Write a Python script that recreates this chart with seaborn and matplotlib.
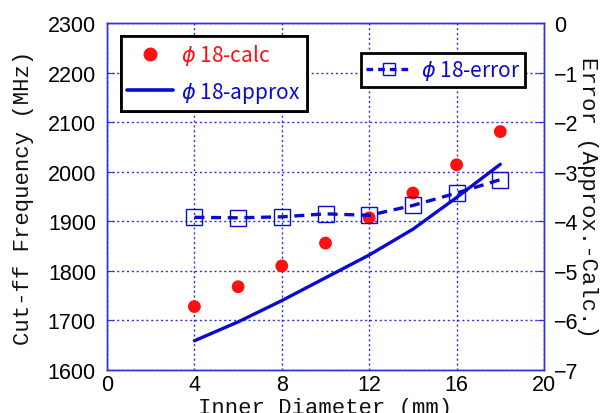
import numpy as np
import pandas as pd
import matplotlib
matplotlib.use("Agg")
import matplotlib.pyplot as plt
import seaborn as sns
from matplotlib.lines import Line2D

# ---- data ----
diameter = [4, 6, 8, 10, 12, 14, 16, 18]
freq_calc = [1728, 1768, 1810, 1856, 1907, 1957, 2014, 2081]
freq_approx = [1659, 1697, 1740, 1786, 1832, 1884, 1948, 2015]
error_pct = [-3.92, -3.93, -3.91, -3.85, -3.88, -3.68, -3.43, -3.16]

x_ticks = [0, 4, 8, 12, 16, 20]
y_ticks = [1600, 1700, 1800, 1900, 2000, 2100, 2200, 2300]
y2_ticks = [0, -1, -2, -3, -4, -5, -6, -7]

label_calc = "$\\phi$ 18-calc"
label_approx = "$\\phi$ 18-approx"
label_error = "$\\phi$ 18-error"

df = pd.DataFrame({"d": diameter, "calc": freq_calc, "approx": freq_approx, "err": error_pct})

sns.set_style("white")
plt.rcParams["font.family"] = ["Liberation Sans", "DejaVu Sans"]
plt.rcParams["mathtext.fontset"] = "dejavusans"

RED = "#ff1010"
BLUE = "#0a0ad0"
GRID = "#3030e0"

fig = plt.figure(figsize=(6.07, 4.14), dpi=100)
ax = fig.add_axes([107/607, 1-371/414, (544-107)/607, (371-24)/414])
ax2 = ax.twinx()

sns.lineplot(data=df, x="d", y="approx", ax=ax, color=BLUE, linewidth=2.4, zorder=4)
sns.scatterplot(data=df, x="d", y="calc", ax=ax, color=RED, s=85, edgecolor="none", zorder=5)
sns.lineplot(data=df, x="d", y="err", ax=ax2, color=BLUE, linewidth=2.4,
             linestyle=(0, (3, 2)), marker="s", markersize=11,
             markerfacecolor="none", markeredgecolor=BLUE, markeredgewidth=1.0, zorder=4)

ax.set_xlim(0, 20)
ax.set_ylim(1600, 2300)
ax2.set_ylim(-7, 0)
ax.set_xticks(x_ticks)
ax.set_yticks(y_ticks)
ax2.set_yticks(y2_ticks)
ax2.set_yticklabels(["0"] + ["\u2212%d" % (-v) for v in y2_ticks[1:]])

ax.grid(True, color=GRID, linestyle=(0, (1.5, 2)), linewidth=1.0)
ax.set_axisbelow(True)

for a in (ax, ax2):
    for s in a.spines.values():
        s.set_color(GRID)
        s.set_linewidth(1.0)
    a.tick_params(direction="in", length=5, color=GRID, labelsize=15.5, labelcolor="black", pad=4)
ax.tick_params(axis="x", pad=3)
ax.tick_params(axis="y", pad=8)
ax2.tick_params(axis="y", pad=7)

mono = ["Liberation Mono"]
ax.set_xlabel("Inner Diameter (mm)", family=mono, fontsize=16, color="#111111", labelpad=1)
ax.set_ylabel("Cut-ff Frequency (MHz)", family=mono, fontsize=16, color="#111111", labelpad=10)
ax2.set_ylabel("Error (Approx.-Calc.)", family=mono, fontsize=16, color="#111111",
               rotation=270, labelpad=14)

lfont = {"family": ["Noto Sans CJK JP", "DejaVu Sans"], "size": 15}
h1 = [Line2D([], [], color=RED, marker="o", linestyle="none", markersize=9),
      Line2D([], [], color=BLUE, linewidth=2.6)]
leg1 = ax.legend(h1, [label_calc, label_approx], loc="upper left",
                 bbox_to_anchor=(14/437, 1-13/347), prop=lfont, frameon=True,
                 fancybox=False, edgecolor="black", framealpha=1, borderpad=0.3,
                 borderaxespad=0, labelspacing=0.6, handlelength=2.2, handletextpad=0.4)
leg1.get_frame().set_linewidth(2.0)
for t, c in zip(leg1.get_texts(), [RED, BLUE]):
    t.set_color(c)
ax.add_artist(leg1)
leg1.set_zorder(10)

h2 = [Line2D([], [], color=BLUE, linewidth=2.4, linestyle=(0, (2, 1.5)), marker="s",
             markersize=9, markerfacecolor="none", markeredgewidth=1.0)]
leg2 = ax2.legend(h2, [label_error], loc="upper right",
                  bbox_to_anchor=((525-107)/437, 1-30/347), prop=lfont, frameon=True,
                  fancybox=False, edgecolor="black", framealpha=1, borderpad=0.25,
                  borderaxespad=0, handlelength=2.2, handletextpad=0.4)
leg2.get_frame().set_linewidth(2.0)
leg2.get_texts()[0].set_color(BLUE)
leg2.set_zorder(10)

fig.savefig("out.png", dpi=100)
